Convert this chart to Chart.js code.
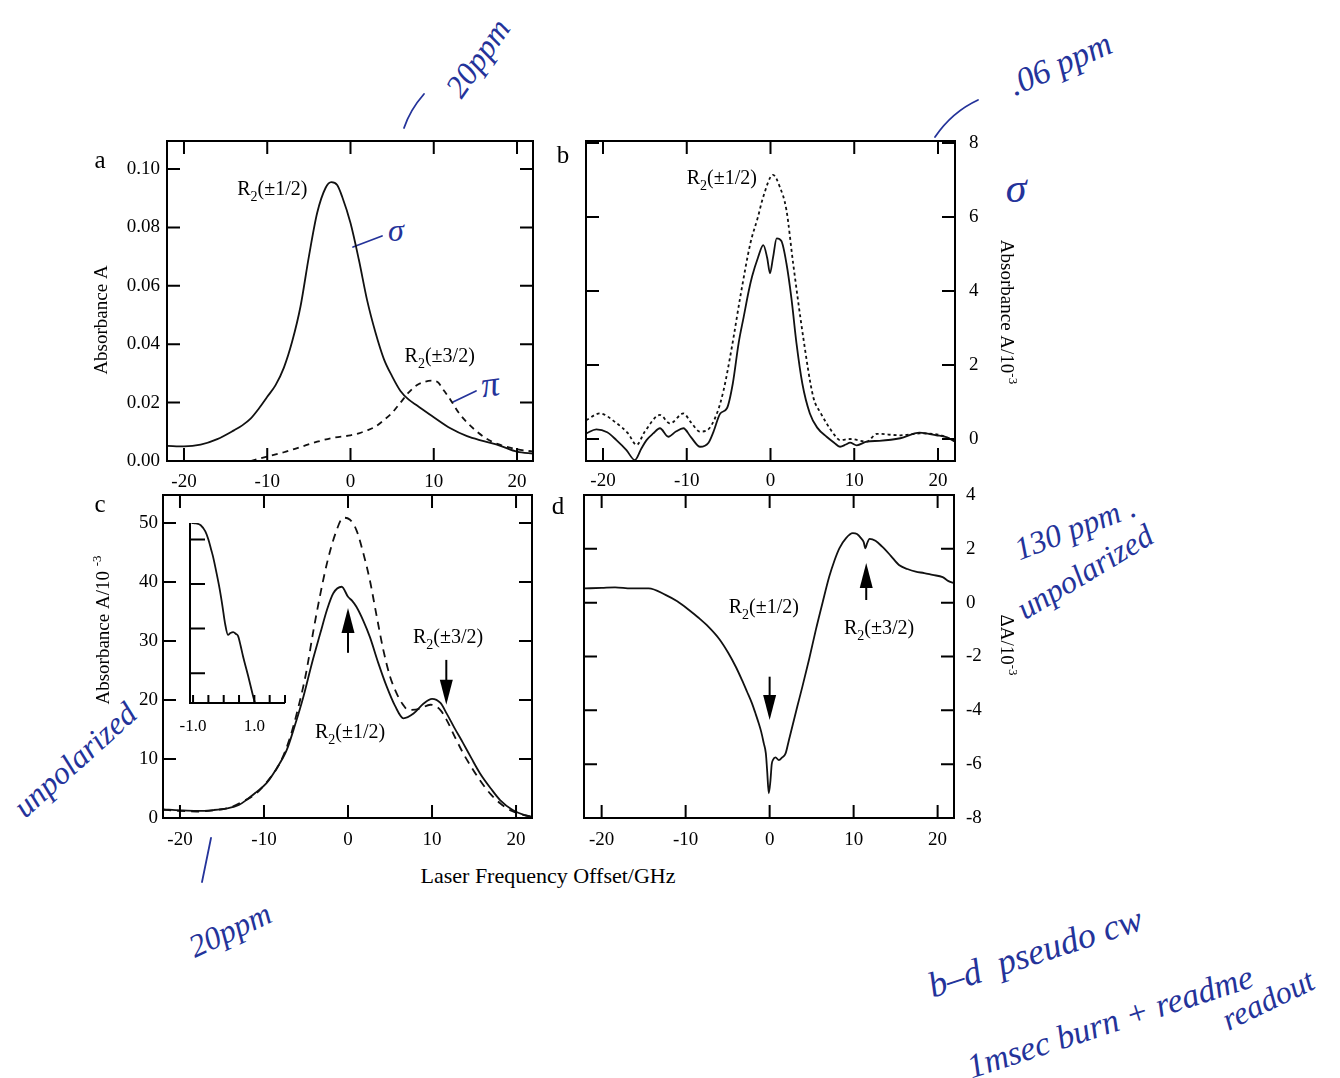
<!DOCTYPE html>
<html>
<head>
<meta charset="utf-8">
<script src="https://cdn.jsdelivr.net/npm/chart.js@4.4.0/dist/chart.umd.min.js"></script>
<style>
html, body { margin:0; padding:0; background:#fff; }
#page { position:relative; width:1340px; height:1078px; overflow:hidden; background:#fff; }
#page canvas { position:absolute; }
.hw { position:absolute; color:#24339a; font-family:"Liberation Serif", serif; font-style:italic; white-space:nowrap; transform-origin:center center; }
.xtitle { position:absolute; font-family:"Liberation Serif", serif; font-size:22px; color:#000; transform:translate(-50%,-50%); white-space:nowrap; }
svg.strokes { position:absolute; left:0; top:0; }
</style>
</head>
<body>
<div id="page">
  <div class="xtitle" style="left:548px;top:876px">Laser Frequency Offset/GHz</div>

  <!-- hand written notes on the scan -->
  <div class="hw" style="left:478px;top:58px;font-size:32px;transform:translate(-50%,-50%) rotate(-55deg)">20ppm</div>
  <div class="hw" style="left:1060px;top:64px;font-size:34px;transform:translate(-50%,-50%) rotate(-24deg)">.06 ppm</div>
  <div class="hw" style="left:1016px;top:188px;font-size:42px;transform:translate(-50%,-50%)">σ</div>
  <div class="hw" style="left:396px;top:230px;font-size:32px;transform:translate(-50%,-50%)">σ</div>
  <div class="hw" style="left:490px;top:384px;font-size:36px;transform:translate(-50%,-50%) rotate(-8deg)">π</div>
  <div class="hw" style="left:1075px;top:528px;font-size:32px;transform:translate(-50%,-50%) rotate(-21deg)">130 ppm .</div>
  <div class="hw" style="left:1085px;top:572px;font-size:32px;transform:translate(-50%,-50%) rotate(-31deg)">unpolarized</div>
  <div class="hw" style="left:75px;top:760px;font-size:32px;transform:translate(-50%,-50%) rotate(-42deg)">unpolarized</div>
  <div class="hw" style="left:230px;top:930px;font-size:32px;transform:translate(-50%,-50%) rotate(-25deg)">20ppm</div>
  <div class="hw" style="left:1035px;top:952px;font-size:36px;transform:translate(-50%,-50%) rotate(-18deg)">b–d&nbsp;&nbsp;pseudo cw</div>
  <div class="hw" style="left:1110px;top:1022px;font-size:34px;transform:translate(-50%,-50%) rotate(-18deg)">1msec burn + readme</div>
  <div class="hw" style="left:1268px;top:1000px;font-size:32px;transform:translate(-50%,-50%) rotate(-26deg)">readout</div>
  <svg class="strokes" width="1340" height="1078">
    <g fill="none" stroke="#24339a" stroke-width="1.8" stroke-linecap="round">
      <path d="M404,128 Q410,110 424,94"/>
      <path d="M935,137 Q952,112 978,100"/>
      <path d="M353,247 L382,236"/>
      <path d="M453,402 L476,391"/>
      <path d="M202,882 L211,838"/>
    </g>
  </svg>
</div>

<script>
// ---- panel a : absorbance, sigma (solid) and pi (dashed)
var aX      = [-22,-20,-18,-16,-14,-13,-12,-11,-10,-9,-8,-7,-6,-5,-4,-3,-2.3,-1.6,-1,0,1,2,3,4,5,6,7,8,10,12,14,16,18,20,22];
var aSolid  = [0.0052,0.0050,0.0056,0.0075,0.0105,0.0122,0.0145,0.018,0.022,0.026,0.032,0.041,0.053,0.070,0.085,0.0935,0.0955,0.0945,0.0905,0.0815,0.069,0.055,0.044,0.035,0.029,0.024,0.021,0.019,0.015,0.0112,0.0085,0.0068,0.0052,0.0032,0.0025];
var aDashX  = [-12,-10,-8,-6,-4,-2,0,1,2,3,4,5,6,7,8,9,9.7,10.5,11,12,13,14,15,16,17,18,20,22];
var aDashed = [0.0,0.0015,0.003,0.0048,0.0066,0.008,0.0088,0.0095,0.0105,0.0118,0.014,0.0165,0.020,0.0235,0.026,0.0272,0.0275,0.027,0.025,0.021,0.0165,0.0132,0.0105,0.0083,0.0066,0.0055,0.0040,0.0032];

// ---- panel b : absorbance / 1e-3
var bX      = [-22,-20.8,-19.5,-18.4,-17.2,-16.2,-15.4,-14.8,-14,-13.2,-12.2,-11.3,-10.4,-9.5,-8.4,-7.4,-6.8,-6,-5.2,-4.5,-3.8,-3.2,-2.6,-2.2,-1.5,-0.86,-0.4,-0.06,0.3,0.74,1.3,1.9,2.5,3.1,3.8,4.7,5.6,6.7,7.6,8.3,9,9.5,10.3,11.5,13,15.5,17.8,19.8,21,22];
var bSolid  = [0.15,0.26,0.18,-0.03,-0.3,-0.57,-0.25,-0.03,0.15,0.29,0.06,0.2,0.29,0.05,-0.21,-0.1,0.2,0.69,0.83,1.5,2.6,3.3,4.0,4.39,4.9,5.24,4.9,4.48,4.9,5.42,5.35,4.75,3.8,2.59,1.5,0.69,0.3,0.06,-0.1,-0.21,-0.15,-0.1,-0.17,-0.07,-0.05,0.02,0.17,0.1,0.05,-0.07];
var bDotX   = [-22,-20.4,-18.4,-17,-16,-15,-13.2,-12,-10.4,-9.5,-8.4,-7.6,-6.4,-5.6,-4.6,-3.6,-2.4,-1.5,-0.86,0.3,1.1,1.9,2.7,3.9,5.1,6,6.7,7.5,8.3,9.5,11.5,12.7,15.5,17.8,20,22];
var bDotted = [0.51,0.69,0.43,0.15,-0.16,0.2,0.65,0.42,0.69,0.45,0.2,0.23,0.69,1.32,2.5,3.85,5.29,6.0,6.55,7.14,6.82,6.19,4.75,2.76,1.14,0.7,0.42,0.15,-0.03,0.0,-0.07,0.14,0.1,0.15,0.12,-0.05];

// ---- panel c : absorbance / 1e-3, unpolarized
var cX      = [-22,-20,-18,-16,-14.4,-13,-12.1,-11,-9.7,-8.5,-7.3,-6.3,-5.3,-4.3,-3.3,-2.5,-1.75,-0.75,0,0.5,1.0,1.8,2.6,3.6,4.6,5.6,6.6,7.8,9,10,11,11.75,12.7,13.7,14.7,15.7,17,18.1,19.6,21,22];
var cSolid  = [1.47,1.3,1.2,1.35,1.64,2.2,3.05,4.3,5.9,8.4,11.5,15.8,20.6,26.2,31.3,35.3,38.1,39.2,37.5,36.8,35.8,33.5,30.7,26.3,22.3,19.0,16.9,17.7,19.4,20.2,19.5,17.7,15.2,12.7,10.1,7.6,5.0,3.05,1.36,0.5,0.2];
var cDashX  = [-22,-20,-18,-16,-14,-12.5,-10.9,-9.5,-8.1,-7,-6.1,-5,-4.1,-3.3,-2.5,-1.5,-0.55,0.2,1.0,1.8,2.6,3.4,4.2,5,5.8,6.5,7.2,8.5,9.8,11,11.75,12.7,13.7,14.7,15.7,17,18.1,19.5,21,22];
var cDashed = [1.4,1.2,1.1,1.3,1.8,2.8,4.2,6.4,9.3,13.2,17.7,24.5,31.9,37.9,43.2,48.2,50.9,50.6,48.8,45.0,40.3,34.3,28.5,24.0,21.1,19.3,18.3,18.5,19.2,18.3,16.6,13.8,11.0,8.6,6.4,4.0,2.5,1.2,0.5,0.2];

// ---- inset of c
var insetX  = [-1.05,-0.9,-0.75,-0.6,-0.5,-0.4,-0.35,-0.25,-0.13,-0.04,0.04,0.14,0.22,0.31,0.4,0.47,0.55,0.63,0.8,0.96,1.02];
var insetY  = [4.37,4.36,4.32,4.18,4.0,3.75,3.62,3.3,2.88,2.5,2.13,1.86,1.9,1.92,1.88,1.83,1.62,1.38,0.93,0.48,0.33];

// ---- panel d : delta A / 1e-3
var dX      = [-22,-20,-18.4,-16.5,-14.4,-12.4,-11,-9.6,-8.5,-7.3,-6,-4.9,-4,-3.3,-2.7,-2.1,-1.7,-1.3,-1,-0.7,-0.45,-0.3,-0.1,0.1,0.25,0.4,0.7,1.1,1.5,1.9,2.3,2.7,3.3,3.9,4.7,5.5,6.3,7.1,7.7,8.3,9.1,9.9,10.4,10.9,11.2,11.4,11.6,11.9,12.6,13.4,14.4,15.4,16.4,17.4,18.4,19.4,20.6,21.3,22];
var dDelta  = [0.53,0.55,0.57,0.53,0.53,0.29,0.05,-0.27,-0.55,-0.89,-1.35,-1.88,-2.4,-2.87,-3.3,-3.74,-4.1,-4.48,-4.8,-5.22,-5.6,-6.22,-7.08,-6.6,-6.0,-5.84,-5.75,-5.85,-5.75,-5.6,-5.1,-4.6,-3.85,-3.12,-2.1,-1.01,0.0,0.97,1.55,2.02,2.4,2.58,2.55,2.39,2.25,2.02,2.2,2.37,2.3,2.08,1.75,1.4,1.25,1.15,1.1,1.03,0.95,0.8,0.72];

// ticks and tick labels
var freqTicks  = [-20,-10,0,10,20];
var freqLabels = ['-20','-10','0','10','20'];
var aYTicks    = [0,0.02,0.04,0.06,0.08,0.10];
var aYLabels   = ['0.00','0.02','0.04','0.06','0.08','0.10'];
var bYTicks    = [0,2,4,6,8];
var bYLabels   = ['0','2','4','6','8'];
var cYTicks    = [0,10,20,30,40,50];
var cYLabels   = ['0','10','20','30','40','50'];
var dYTicks    = [-8,-6,-4,-2,0,2,4];
var dYLabels   = ['-8','-6','-4','-2','0','2','4'];
var insetXTicks = [-1,-0.5,0,0.5,1,1.5,2];
var insetYTicks = [1,2,3,4];

var R12 = [['R',0],['2',1],['(±1/2)',0]];
var R32 = [['R',0],['2',1],['(±3/2)',0]];

var FONT = '"Liberation Serif", "Times New Roman", serif';
var PAD = 100;
var specs = {};

function pts(xs, ys) {
  return xs.map(function(x, i){ return {x: x, y: ys[i]}; });
}

function rich(ctx, parts, x, y, align, size) {
  var w = parts.map(function(p){
    ctx.font = (p[1] ? Math.round(size*0.7) : size) + 'px ' + FONT;
    return ctx.measureText(p[0]).width;
  });
  var total = w.reduce(function(s, v){ return s + v; }, 0);
  var cx = align === 'center' ? x - total/2 : (align === 'right' ? x - total : x);
  ctx.textAlign = 'left';
  ctx.textBaseline = 'alphabetic';
  parts.forEach(function(p, i){
    ctx.font = (p[1] ? Math.round(size*0.7) : size) + 'px ' + FONT;
    var dy = p[1] === 1 ? size*0.3 : (p[1] === 2 ? -size*0.42 : 0);
    ctx.fillText(p[0], cx, y + dy);
    cx += w[i];
  });
}

var framePlugin = {
  id: 'frame',
  afterDatasetsDraw: function(chart) {
    var s = specs[chart.canvas.id];
    var ctx = chart.ctx, a = chart.chartArea, xs = chart.scales.x, ys = chart.scales.y;
    var ox = s.ox, oy = s.oy;
    ctx.save();
    ctx.strokeStyle = '#000';
    ctx.fillStyle = '#000';
    ctx.lineWidth = 2;

    // frame
    ctx.beginPath();
    if (s.inset) {
      ctx.moveTo(a.left, a.top); ctx.lineTo(a.left, a.bottom); ctx.lineTo(a.right, a.bottom);
    } else {
      ctx.rect(a.left, a.top, a.right - a.left, a.bottom - a.top);
    }
    ctx.stroke();

    // inward ticks, mirrored on all sides
    var tx = s.tickX || 13, ty = s.tickY || 13;
    ctx.beginPath();
    s.xTicks.forEach(function(v){
      var p = xs.getPixelForValue(v);
      ctx.moveTo(p, a.bottom); ctx.lineTo(p, a.bottom - tx);
      if (!s.inset) { ctx.moveTo(p, a.top); ctx.lineTo(p, a.top + tx); }
    });
    s.yTicks.forEach(function(v){
      var p = ys.getPixelForValue(v);
      ctx.moveTo(a.left, p); ctx.lineTo(a.left + ty, p);
      if (!s.inset) { ctx.moveTo(a.right, p); ctx.lineTo(a.right - ty, p); }
    });
    ctx.stroke();

    // tick labels
    ctx.font = s.tickSize + 'px ' + FONT;
    ctx.textBaseline = 'middle';
    ctx.textAlign = 'center';
    s.xLabelVals.forEach(function(v, i){
      ctx.fillText(s.xLabels[i], xs.getPixelForValue(v), s.xLabelY - oy);
    });
    if (s.yLabels) {
      ctx.textAlign = s.ySide === 'right' ? 'left' : 'right';
      s.yLabelVals.forEach(function(v, i){
        ctx.fillText(s.yLabels[i], s.yLabelX - ox, ys.getPixelForValue(v));
      });
    }

    // axis title
    if (s.title) {
      ctx.save();
      ctx.translate(s.title.x - ox, s.title.y - oy);
      ctx.rotate(s.title.rot * Math.PI / 180);
      rich(ctx, s.title.parts, 0, 6, 'center', 19);
      ctx.restore();
    }
    // panel letter
    if (s.letter) {
      ctx.font = '25px ' + FONT;
      ctx.textAlign = 'center';
      ctx.textBaseline = 'middle';
      ctx.fillText(s.letter.t, s.letter.x - ox, s.letter.y - oy);
    }
    // transition labels, placed in data coordinates
    (s.notes || []).forEach(function(n){
      rich(ctx, n.parts, xs.getPixelForValue(n.x), ys.getPixelForValue(n.y) + 7, 'left', 20);
    });
    // arrows
    (s.arrows || []).forEach(function(ar){
      var px = xs.getPixelForValue(ar.x);
      var p0 = ys.getPixelForValue(ar.from), p1 = ys.getPixelForValue(ar.to);
      var dir = p1 > p0 ? 1 : -1;
      ctx.lineWidth = 2;
      ctx.beginPath(); ctx.moveTo(px, p0); ctx.lineTo(px, p1 - dir*20); ctx.stroke();
      ctx.beginPath();
      ctx.moveTo(px, p1);
      ctx.lineTo(px - 6.5, p1 - dir*25);
      ctx.lineTo(px + 6.5, p1 - dir*25);
      ctx.closePath(); ctx.fill();
    });
    ctx.restore();
  }
};

function makePanel(id, box, xr, yr, datasets, spec) {
  var page = document.getElementById('page');
  var c = document.createElement('canvas');
  c.id = id;
  var w = box.r - box.l + 2*PAD, h = box.b - box.t + 2*PAD;
  c.width = w; c.height = h;
  c.style.width = w + 'px'; c.style.height = h + 'px';
  c.style.left = (box.l - PAD) + 'px';
  c.style.top = (box.t - PAD) + 'px';
  page.appendChild(c);
  spec.ox = box.l - PAD;
  spec.oy = box.t - PAD;
  specs[id] = spec;
  return new Chart(c, {
    type: 'line',
    data: { datasets: datasets },
    options: {
      responsive: false,
      animation: false,
      devicePixelRatio: 1,
      layout: { padding: PAD },
      plugins: { legend: { display: false }, tooltip: { enabled: false } },
      scales: {
        x: { type: 'linear', min: xr[0], max: xr[1], display: false },
        y: { type: 'linear', min: yr[0], max: yr[1], display: false }
      },
      elements: {
        point: { radius: 0 },
        line: { borderWidth: 1.8, borderColor: '#111', fill: false, cubicInterpolationMode: 'monotone' }
      }
    },
    plugins: [framePlugin]
  });
}

function series(xs, ys, dash) {
  return { data: pts(xs, ys), borderColor: '#111', borderWidth: 1.8, borderDash: dash || [], pointRadius: 0 };
}

// panel a
makePanel('pa', {l:167, t:141, r:533, b:461}, [-22.04, 21.92], [0, 0.1096],
  [series(aX, aSolid), series(aDashX, aDashed, [6,5])],
  { xTicks: freqTicks, yTicks: aYTicks, tickSize: 19,
    xLabelVals: freqTicks, xLabels: freqLabels, xLabelY: 482,
    yLabelVals: aYTicks, yLabels: aYLabels, ySide: 'left', yLabelX: 160,
    title: { parts: [['Absorbance A',0]], x: 101, y: 320, rot: -90 },
    letter: { t: 'a', x: 100, y: 161 },
    notes: [ { x: -13.6, y: 0.0935, parts: R12 }, { x: 6.5, y: 0.0363, parts: R32 } ] });

// panel b
makePanel('pb', {l:586, t:141, r:955, b:461}, [-22.03, 22.03], [-0.595, 8.054],
  [series(bX, bSolid), series(bDotX, bDotted, [3,3])],
  { xTicks: freqTicks, yTicks: bYTicks, tickSize: 19,
    xLabelVals: freqTicks, xLabels: freqLabels, xLabelY: 481,
    yLabelVals: bYTicks, yLabels: bYLabels, ySide: 'right', yLabelX: 969,
    title: { parts: [['Absorbance A/10',0],['-3',2]], x: 1007, y: 312, rot: 90 },
    letter: { t: 'b', x: 563, y: 156 },
    notes: [ { x: -10.0, y: 7.08, parts: R12 } ] });

// panel c
makePanel('pc', {l:163, t:495, r:532, b:818}, [-22.02, 21.9], [0, 54.75],
  [series(cX, cSolid), series(cDashX, cDashed, [8,6])],
  { xTicks: freqTicks, yTicks: cYTicks, tickSize: 19,
    xLabelVals: freqTicks, xLabels: freqLabels, xLabelY: 840,
    yLabelVals: cYTicks, yLabels: cYLabels, ySide: 'left', yLabelX: 158,
    title: { parts: [['Absorbance A/10 ',0],['-3',2]], x: 103, y: 630, rot: -90 },
    letter: { t: 'c', x: 100, y: 505 },
    notes: [ { x: -3.93, y: 14.7, parts: R12 }, { x: 7.74, y: 30.8, parts: R32 } ],
    arrows: [ { x: 0, from: 28.0, to: 35.6 }, { x: 11.7, from: 26.8, to: 19.2 } ] });

// panel d
makePanel('pd', {l:584, t:495, r:954, b:818}, [-22.1, 21.95], [-8, 4],
  [series(dX, dDelta)],
  { xTicks: freqTicks, yTicks: dYTicks, tickSize: 19,
    xLabelVals: freqTicks, xLabels: freqLabels, xLabelY: 840,
    yLabelVals: dYTicks, yLabels: dYLabels, ySide: 'right', yLabelX: 966,
    title: { parts: [['ΔA/10',0],['-3',2]], x: 1007, y: 645, rot: 90 },
    letter: { t: 'd', x: 558, y: 507 },
    notes: [ { x: -4.87, y: -0.12, parts: R12 }, { x: 8.85, y: -0.89, parts: R32 } ],
    arrows: [ { x: 0, from: -2.75, to: -4.36 }, { x: 11.5, from: 0.1, to: 1.47 } ] });

// inset in c
makePanel('pi', {l:190, t:523, r:285, b:703}, [-1.1, 2.0], [0.33, 4.37],
  [series(insetX, insetY)],
  { inset: true, xTicks: insetXTicks, yTicks: insetYTicks, tickX: 8, tickY: 15, tickSize: 17,
    xLabelVals: [-1, 1], xLabels: ['-1.0', '1.0'], xLabelY: 727 });
</script>
</body>
</html>
